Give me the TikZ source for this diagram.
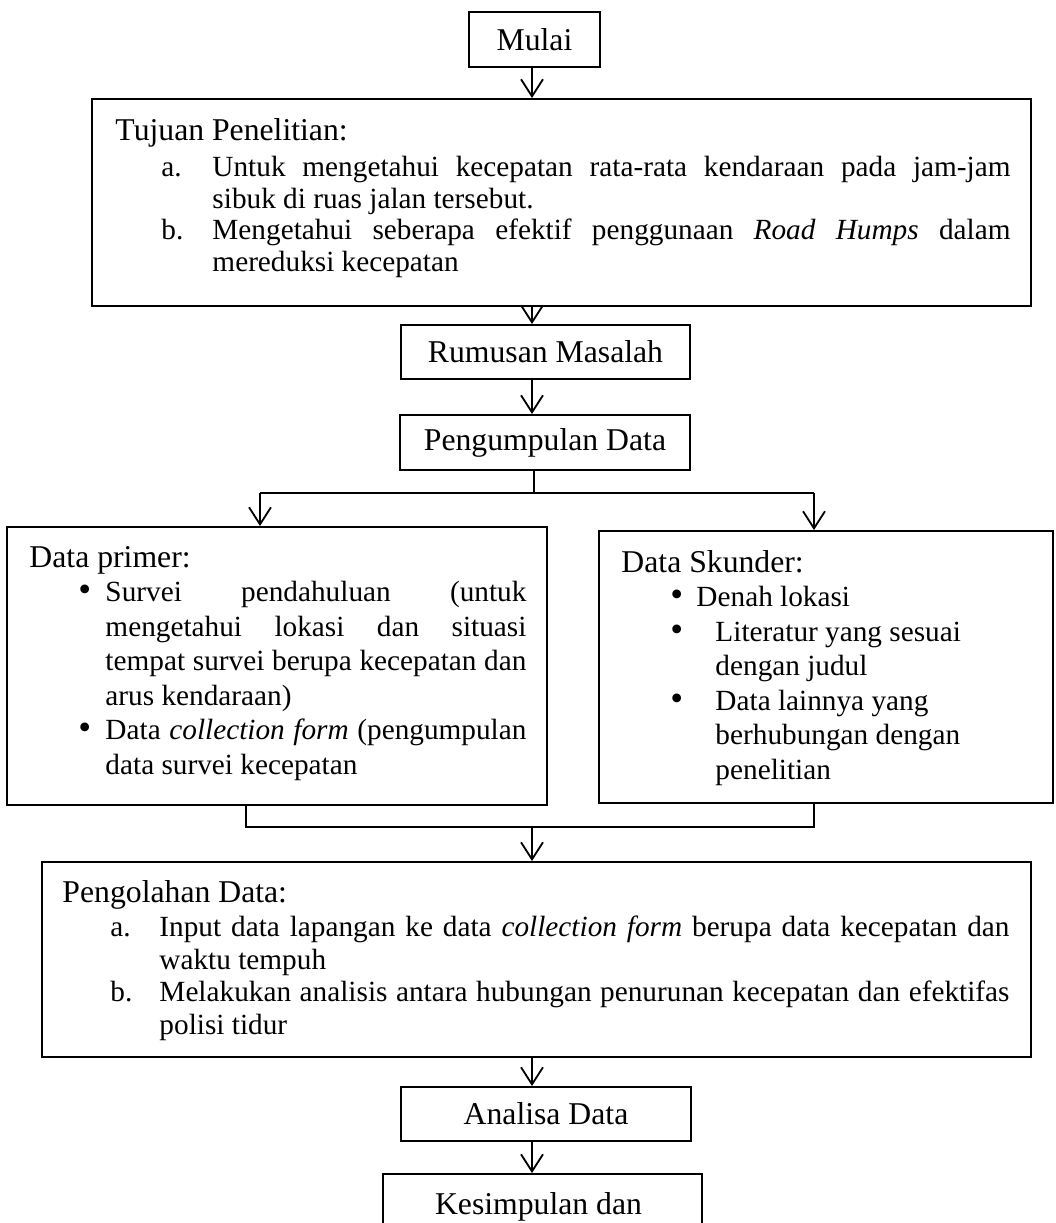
\documentclass[tikz,border=0pt]{standalone}
\usepackage{fontspec}
\setmainfont{Liberation Serif}
\usetikzlibrary{arrows.meta}
\newcommand{\jline}[2]{\makebox[#1][s]{\spaceskip=0pt\xspaceskip=0pt #2}}
\newcommand{\hd}[1]{{\fontsize{13}{14}\selectfont #1}}
\newcommand{\bul}{{\fontsize{15}{14}\selectfont\textbullet}}
\begin{document}
\begin{tikzpicture}[x=0.41pt,y=-0.41pt,
  box/.style={draw, line width=0.8pt, inner sep=0pt, font={\fontsize{13}{15}\selectfont}},
  txt/.style={anchor=base west, inner sep=0pt, align=left},
  arr/.style={-{Straight Barb[length=7pt,width=9pt]}, line width=0.75pt},
  ln/.style={line width=0.75pt}]
\useasboundingbox (0,0) rectangle (1055,1223);
\clip (0,0) rectangle (1055,1223);

% boxes
\node[box, minimum width=53.71pt, minimum height=22.55pt] (mulai) at (534.5,39.5) {Mulai};
\node[box, minimum width=384.99pt, minimum height=84.87pt] (tujuan) at (561.5,202.5) {};
\node[box, minimum width=118.49pt, minimum height=22.14pt] (rumusan) at (545.5,352) {Rumusan Masalah};
\node[box, minimum width=118.9pt, minimum height=22.55pt] (kumpul) at (545,442.5) {Pengumpulan Data};
\node[box, minimum width=221.4pt, minimum height=113.98pt] (primer) at (277,666) {};
\node[box, minimum width=186.14pt, minimum height=111.52pt] (skunder) at (826,667) {};
\node[box, minimum width=405.49pt, minimum height=79.95pt] (olah) at (536.5,959.5) {};
\node[box, minimum width=118.9pt, minimum height=22.14pt] (analisa) at (546,1114) {Analisa Data};
\node[box, minimum width=130.79pt, minimum height=35pt] (simpul) at (542.5,1216.7) {};

% texts
\node[txt, text width=370pt, font={\fontsize{12}{13}\selectfont}] (tujuantxt) at (115,140) {\spaceskip=0pt\xspaceskip=0pt\hd{Tujuan Penelitian:}\\[2pt]
\hspace*{18.86pt}\makebox[20.91pt][l]{a.}\jline{327.2pt}{Untuk mengetahui kecepatan rata-rata kendaraan pada jam-jam}\\
\hspace*{39.77pt}sibuk di ruas jalan tersebut.\\
\hspace*{18.86pt}\makebox[20.91pt][l]{b.}\jline{327.2pt}{Mengetahui seberapa efektif penggunaan \textit{Road Humps} dalam}\\
\hspace*{39.77pt}mereduksi kecepatan};

\node[txt, text width=210pt, font={\fontsize{12}{14.15}\selectfont}] (primertxt) at (29,567) {\spaceskip=0pt\xspaceskip=0pt\hd{Data primer:}\\
\hspace*{20.09pt}\makebox[11.07pt][l]{\bul}\jline{172.6pt}{Survei pendahuluan (untuk}\\
\hspace*{31.16pt}\jline{172.6pt}{mengetahui lokasi dan situasi}\\
\hspace*{31.16pt}\jline{172.6pt}{tempat survei berupa kecepatan dan}\\
\hspace*{31.16pt}arus kendaraan)\\
\hspace*{20.09pt}\makebox[11.07pt][l]{\bul}\jline{172.6pt}{Data \textit{collection form} (pengumpulan}\\
\hspace*{31.16pt}data survei kecepatan};

\node[txt, text width=160pt, font={\fontsize{12}{14.15}\selectfont}] (skundertxt) at (621,572) {\spaceskip=0pt\xspaceskip=0pt\hd{Data Skunder:}\\
\hspace*{20.09pt}\makebox[10.66pt][l]{\bul}Denah lokasi\\
\hspace*{20.09pt}\makebox[18.45pt][l]{\bul}Literatur yang sesuai\\
\hspace*{38.54pt}dengan judul\\
\hspace*{20.09pt}\makebox[18.45pt][l]{\bul}Data lainnya yang\\
\hspace*{38.54pt}berhubungan dengan\\
\hspace*{38.54pt}penelitian};

\node[txt, text width=392pt, font={\fontsize{12}{13.3}\selectfont}] (olahtxt) at (62,902) {\spaceskip=0pt\xspaceskip=0pt\hd{Pengolahan Data:}\\[1pt]
\hspace*{19.68pt}\makebox[20.09pt][l]{a.}\jline{348.5pt}{Input data lapangan ke data \textit{collection form} berupa data kecepatan dan}\\
\hspace*{39.77pt}waktu tempuh\\
\hspace*{19.68pt}\makebox[20.09pt][l]{b.}\jline{348.5pt}{Melakukan analisis antara hubungan penurunan kecepatan dan efektifas}\\
\hspace*{39.77pt}polisi tidur};

\node[anchor=base, inner sep=0pt, font={\fontsize{13}{15}\selectfont}] (simpultxt) at (538.5,1214) {Kesimpulan dan};

% connectors
\coordinate (ax) at (532,0);
\coordinate (sp) at (534,493);
\coordinate (sl) at (260,493);
\coordinate (sr) at (814,493);
\coordinate (jl) at (246,827);
\coordinate (jr) at (814,827);

\draw[arr] (mulai.south -| ax) -- (tujuan.north -| ax);
\draw[arr] (tujuan.south -| ax) -- (rumusan.north -| ax);
\draw[arr] (rumusan.south -| ax) -- (kumpul.north -| ax);
\draw[ln] (kumpul.south -| sp) -- (sp);
\draw[ln] (sl) -- (sr);
\draw[arr] (sl) -- (primer.north -| sl);
\draw[arr] (sr) -- (skunder.north -| sr);
\draw[ln] (primer.south -| jl) -- (jl) -- (jr) -- (skunder.south -| jr);
\draw[arr] (jl -| ax) -- (olah.north -| ax);
\draw[arr] (olah.south -| ax) -- (analisa.north -| ax);
\draw[arr] (analisa.south -| ax) -- (simpul.north -| ax);
\end{tikzpicture}
\end{document}
